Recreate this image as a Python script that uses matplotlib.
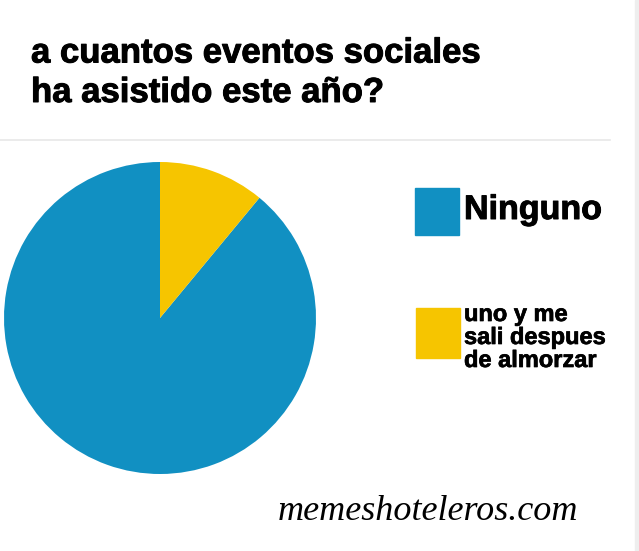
import matplotlib
matplotlib.use("Agg")
import matplotlib.pyplot as plt
import matplotlib.patheffects as pe
from matplotlib.patches import Rectangle
from matplotlib.lines import Line2D

# Datos del gráfico
titulo = "a cuantos eventos sociales\nha asistido este año?"
categorias = ["Ninguno", "uno y me\nsali despues\nde almorzar"]
valores = [89, 11]
colores = ["#1190c2", "#f6c500"]
marca = "memeshoteleros.com"

W, H = 639, 551
fig = plt.figure(figsize=(W / 100, H / 100), dpi=100)
fig.patch.set_facecolor("white")


def grueso(lw):
    # trazo extra para que la letra se vea más pesada
    return [pe.withStroke(linewidth=lw, foreground="black")]


# Título (baseline de la última línea)
fig.text(31 / W, 1 - 102 / H, titulo, fontsize=25, fontweight="bold",
         family="Liberation Sans", color="black", va="baseline",
         linespacing=1.25, path_effects=grueso(0.7))

# Línea separadora entre el título y el gráfico
fig.add_artist(Line2D([0, 610 / W], [1 - 140 / H, 1 - 140 / H], color="#e8e8e8", lw=1.2))
# franja gris del borde derecho
fig.add_artist(Rectangle((635 / W, 0), 4 / W, 1, color="#eeeeee", transform=fig.transFigure))

# Pastel
cx, cy, r = 160, 318, 156
ax = fig.add_axes([(cx - r) / W, (H - cy - r) / H, 2 * r / W, 2 * r / H])
ax.pie(valores, colors=colores, startangle=90, radius=1,
       wedgeprops=dict(linewidth=0))
ax.set_xlim(-1, 1)
ax.set_ylim(-1, 1)
ax.set_aspect("equal")
ax.axis("off")

# Leyenda manual
cajas = [(415, 188, 44, 47), (416, 308, 44, 50)]
textos_y = [219, 367]
tamanos = [24.5, 17]
trazos = [0.7, 0.5]
for (x0, y0, w, h), ty, fs, lw, cat, col in zip(cajas, textos_y, tamanos, trazos, categorias, colores):
    fig.add_artist(Rectangle((x0 / W, 1 - (y0 + h) / H), w / W, h / H,
                             color=col, transform=fig.transFigure))
    fig.text(464 / W, 1 - ty / H, cat, fontsize=fs, fontweight="bold",
             family="Liberation Sans", va="baseline", linespacing=1.0,
             path_effects=grueso(lw))

# Marca de agua
fig.text(278 / W, 1 - 520 / H, marca, fontsize=26, fontstyle="italic",
         family="Liberation Serif", color="black", va="baseline")

fig.savefig("out.png", dpi=100)
